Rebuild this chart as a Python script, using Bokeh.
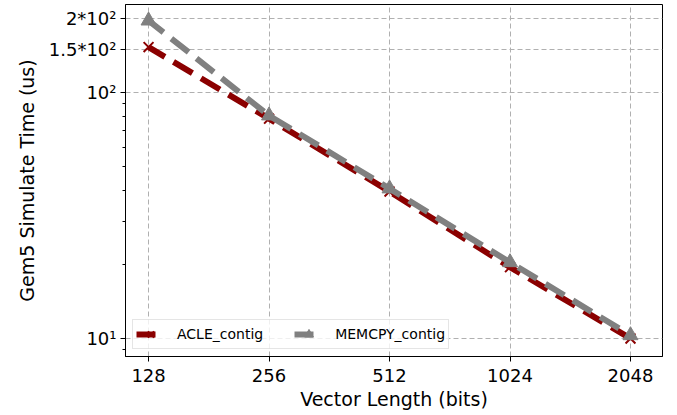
from bokeh.plotting import figure
from bokeh.models import (Range1d, FixedTicker, Legend, LegendItem, ColumnDataSource)
from bokeh.embed import file_html
from bokeh.resources import INLINE

# ---- data ----
vector_lengths = [128, 256, 512, 1024, 2048]
acle_contig = [153, 78.3, 39.6, 19.5, 10.0]
memcpy_contig = [196, 80.6, 40.7, 20.4, 10.3]

x_tick_labels = ["128", "256", "512", "1024", "2048"]
y_major_ticks = [10, 100, 150, 200]
y_tick_labels = ["10¹", "10²", "1.5*10²", "2*10²"]
y_minor_ticks = [9, 20, 30, 40, 50, 60, 70, 80, 90]

FONT = "DejaVu Sans"

p = figure(frame_width=537, frame_height=352, x_axis_type="log", y_axis_type="log",
           output_backend="svg", toolbar_location=None,
           x_range=Range1d(112.1, 2462), y_range=Range1d(8.45, 228),
           min_border_left=125, min_border_right=7, min_border_top=4,
           min_border_bottom=10)

p.outline_line_color = "black"
p.outline_line_width = 1
p.background_fill_color = "white"
p.border_fill_color = "white"

# axes
p.xaxis.ticker = FixedTicker(ticks=vector_lengths, minor_ticks=[])
p.xaxis.major_label_overrides = {v: s for v, s in zip(vector_lengths, x_tick_labels)}
p.yaxis.ticker = FixedTicker(ticks=y_major_ticks, minor_ticks=y_minor_ticks)
p.yaxis.major_label_overrides = {v: s for v, s in zip(y_major_ticks, y_tick_labels)}

for ax in (p.xaxis[0], p.yaxis[0]):
    ax.axis_line_color = "black"
    ax.major_tick_line_color = "black"
    ax.minor_tick_line_color = "black"
    ax.major_tick_out = 5
    ax.major_tick_in = 0
    ax.minor_tick_out = 3
    ax.minor_tick_in = 0
    ax.major_label_text_font = FONT
    ax.major_label_text_font_size = "18px"
    ax.major_label_text_color = "black"
    ax.axis_label_text_font = FONT
    ax.axis_label_text_font_size = "19px"
    ax.axis_label_text_font_style = "normal"
    ax.axis_label_text_color = "black"

p.xaxis.axis_label = "Vector Length (bits)"
p.yaxis.axis_label = "Gem5 Simulate Time (us)"
p.xaxis.major_label_standoff = 7
p.xaxis.axis_label_standoff = 3
p.yaxis.major_label_standoff = 4
p.yaxis.axis_label_standoff = 8

# grid
for g in (p.xgrid[0], p.ygrid[0]):
    g.grid_line_color = "#b0b0b0"
    g.grid_line_dash = "5 3"
    g.grid_line_width = 1
p.xgrid.ticker = FixedTicker(ticks=vector_lengths, minor_ticks=[])
p.ygrid.ticker = FixedTicker(ticks=y_major_ticks, minor_ticks=[])

src = ColumnDataSource(dict(x=vector_lengths, acle=acle_contig, memcpy=memcpy_contig))

red = "#8b0000"
gray = "#808080"

l1 = p.line("x", "acle", source=src, line_color=red, line_width=6,
            line_dash="22 10", line_dash_offset=3)
m1 = p.scatter("x", "acle", source=src, marker="x", size=14, line_color=red, line_width=2)
l2 = p.line("x", "memcpy", source=src, line_color=gray, line_width=6,
            line_dash="22 10", line_dash_offset=3)
m2 = p.scatter("x", "memcpy", source=src, marker="triangle", size=15, fill_color=gray,
               line_color=gray)

legend = Legend(items=[LegendItem(label="ACLE_contig", renderers=[l1, m1]),
                       LegendItem(label="MEMCPY_contig", renderers=[l2, m2])],
                orientation="horizontal", location=(7, 7))
legend.label_text_font = FONT
legend.label_text_font_size = "14px"
legend.label_text_color = "black"
legend.padding = 3
legend.spacing = 31
legend.margin = 0
legend.glyph_width = 29
legend.glyph_height = 22
legend.label_standoff = 12
legend.label_height = 16
legend.border_line_color = "#cccccc"
legend.border_line_width = 1
legend.background_fill_alpha = 0.8
p.add_layout(legend)

open("out.html", "w").write(file_html(p, INLINE))
